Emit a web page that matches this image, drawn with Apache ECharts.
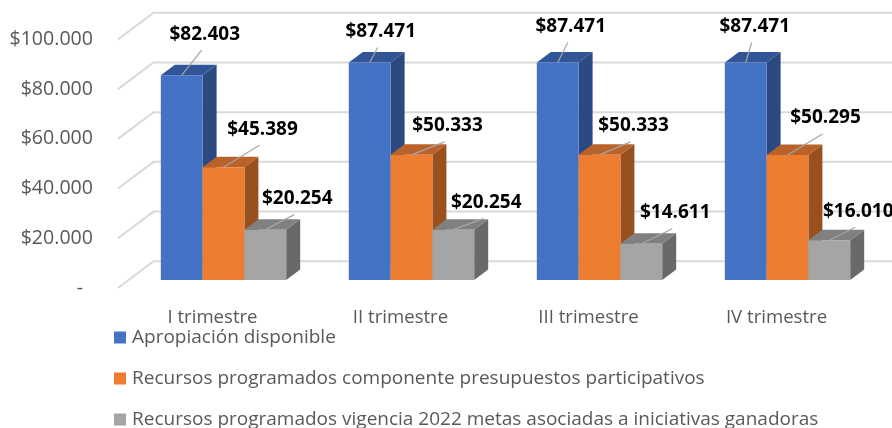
<!DOCTYPE html>
<html>
<head>
<meta charset="utf-8">
<style>html,body{margin:0;padding:0;background:#fff}#c{width:892px;height:428px}</style>
<script src="https://cdn.jsdelivr.net/npm/echarts@6/dist/echarts.min.js"></script>
</head>
<body>
<div id="c"></div>
<script>
const categories = ['I trimestre', 'II trimestre', 'III trimestre', 'IV trimestre'];
const apropiacion = [82403, 87471, 87471, 87471];
const participativos = [45389, 50333, 50333, 50295];
const vigencia2022 = [20254, 20254, 14611, 16010];
const seriesNames = [
  'Apropiación disponible',
  'Recursos programados componente presupuestos participativos',
  'Recursos programados vigencia 2022 metas asociadas a iniciativas ganadoras'
];
const yTicks = [0, 20000, 40000, 60000, 80000, 100000];

// styling / layout (not data)
const FONT = '"Open Sans", sans-serif';
const faces = [
  {front: '#4472C4', top: '#325597', side: '#2B4A82'},
  {front: '#ED7D31', top: '#B9622A', side: '#98511E'},
  {front: '#A5A5A5', top: '#808080', side: '#696969'}
];
const DEPTH = [14, -10.5];
const labelShift = [
  [[23, -41], [11, -31], [13, -36], [9, -36]],
  [[39, -38], [36, -29], [34, -29], [38, -37]],
  [[32, -31], [33, -27], [34, -31], [29, -29]]
];
const CAT_SIZE = 18.6;

const allValues = [apropiacion, participativos, vigencia2022];

function barBox(api, cat, val, idx) {
  const base = api.coord([cat, 0]);
  const top = api.coord([cat, val]);
  const band = api.size([1, 0])[0];
  const w = band * 0.2223;
  const x = base[0] - 1.5 * w + idx * w;
  return {x, w, y0: base[1], y1: top[1]};
}

function barSeries(idx) {
  return {
    name: seriesNames[idx],
    type: 'custom',
    xAxisIndex: 0, yAxisIndex: 0,
    z: 3,
    itemStyle: {color: faces[idx].front},
    data: allValues[idx].map((v, i) => [i, v]),
    encode: {x: 0, y: 1},
    renderItem(params, api) {
      const b = barBox(api, api.value(0), api.value(1), idx);
      const f = faces[idx];
      const [dx, dy] = DEPTH;
      return {
        type: 'group',
        children: [
          {type: 'polygon', shape: {points: [[b.x + b.w, b.y1], [b.x + b.w + dx, b.y1 + dy], [b.x + b.w + dx, b.y0 + dy], [b.x + b.w, b.y0]]}, style: {fill: f.side}},
          {type: 'polygon', shape: {points: [[b.x, b.y1], [b.x + dx, b.y1 + dy], [b.x + b.w + dx, b.y1 + dy], [b.x + b.w, b.y1]]}, style: {fill: f.top}},
          {type: 'rect', shape: {x: b.x, y: b.y1, width: b.w, height: b.y0 - b.y1}, style: {fill: f.front}}
        ]
      };
    }
  };
}

const labelData = [];
allValues.forEach((vals, s) => vals.forEach((v, i) => labelData.push([i, v, s])));

const option = {
  animation: false,
  backgroundColor: '#fff',
  grid: [
    {left: 129.5, right: 10.5, top: 31.4, height: 248.6},
    {left: 95, width: 1, top: 39.4, height: 248.6}
  ],
  xAxis: [
    {
      type: 'category', gridIndex: 0, data: categories,
      axisLine: {show: false}, axisTick: {show: false},
      axisLabel: {
        interval: 0, margin: 28,
        formatter: v => '{c|' + v + '}',
        rich: {c: {padding: [0, 22, 0, 0], fontSize: CAT_SIZE, fontFamily: FONT, color: '#595959'}}
      }
    },
    {type: 'category', gridIndex: 1, data: [''], show: false}
  ],
  yAxis: [
    {type: 'value', gridIndex: 0, min: 0, max: 100000, interval: 20000, show: false},
    {
      type: 'value', gridIndex: 1, min: 0, max: 100000, interval: 20000,
      axisLine: {show: false}, axisTick: {show: false}, splitLine: {show: false},
      axisLabel: {
        margin: 2,
        formatter: v => v === 0 ? '{z|-}' : '$' + String(v).replace(/(\d)(?=(\d{3})+$)/g, '$1.'),
        fontSize: 19.6, fontFamily: FONT, color: '#595959',
        rich: {z: {padding: [0, 10, 0, 0], fontSize: 19.6, fontFamily: FONT, color: '#595959'}}
      }
    }
  ],
  legend: {
    orient: 'vertical', left: 114, top: 328, padding: 0, height: 200, width: 770,
    data: seriesNames.map(n => ({name: n, icon: 'rect'})),
    itemWidth: 12, itemHeight: 12, itemGap: 22,
    textStyle: {fontSize: 19, fontFamily: FONT, color: '#595959', padding: [0, 0, 0, 1]},
    selectedMode: false
  },
  series: [
    {
      type: 'custom', name: 'walls', z: 1, silent: true,
      xAxisIndex: 0, yAxisIndex: 0,
      data: yTicks.map(v => [0, v]),
      encode: {x: 0, y: 1},
      renderItem(params, api) {
        const p = api.coord([0, api.value(1)]);
        const left = params.coordSys.x;
        return {
          type: 'polyline',
          shape: {points: [[left - 11.5, p[1] + 8], [left + 24, p[1] - 18.7], [api.getWidth(), p[1] - 18.7]]},
          style: {stroke: '#D9D9D9', lineWidth: 2, fill: null}
        };
      }
    },
    barSeries(0), barSeries(1), barSeries(2),
    {
      type: 'custom', name: 'labels', z: 5, silent: true,
      xAxisIndex: 0, yAxisIndex: 0,
      data: labelData,
      encode: {x: 0, y: 1},
      renderItem(params, api) {
        const cat = api.value(0), s = api.value(2), val = api.value(1);
        const b = barBox(api, cat, val, s);
        const cx = b.x + b.w / 2;
        const [lx, ly] = labelShift[s][cat];
        const txt = '$' + String(val).replace(/(\d)(?=(\d{3})+$)/, '$1.');
        return {
          type: 'group',
          children: [
            {type: 'line', shape: {x1: cx, y1: b.y1, x2: cx + lx - 3, y2: b.y1 + ly + 16}, style: {stroke: '#A6A6A6', lineWidth: 1.2}},
            {type: 'text', style: {text: txt, x: cx + lx, y: b.y1 + ly, align: 'center', verticalAlign: 'middle', fontFamily: FONT, fontWeight: 700, fontSize: 19, fill: '#000'}}
          ]
        };
      }
    }
  ]
};
const chart = echarts.init(document.getElementById('c'), null, {renderer: 'canvas'});
chart.setOption(option);
</script>
</body>
</html>
